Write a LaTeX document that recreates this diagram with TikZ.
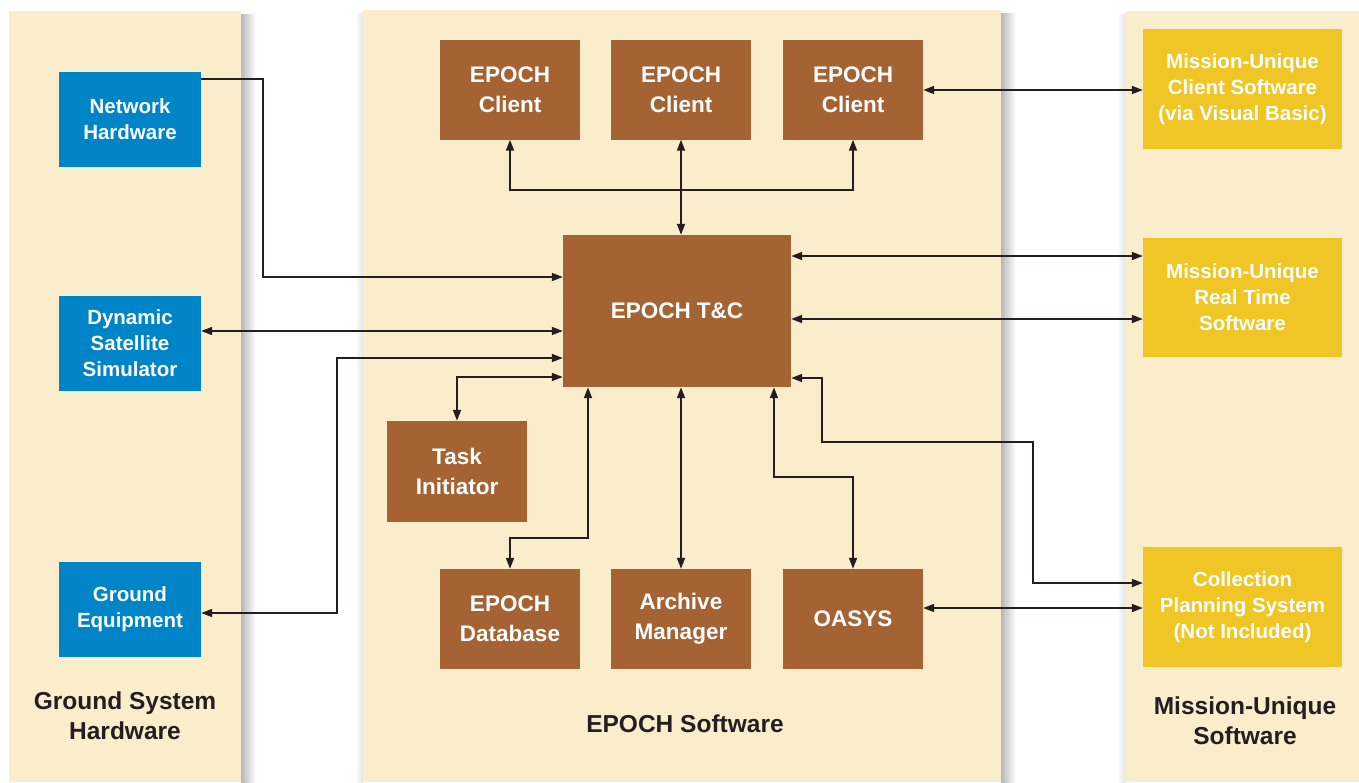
\documentclass[tikz,border=0pt]{standalone}
\usepackage{fontspec}
\setmainfont{Liberation Sans}
\usetikzlibrary{arrows.meta}
\definecolor{cream}{HTML}{FAEDCB}
\definecolor{brownbox}{HTML}{A56333}
\definecolor{bluebox}{HTML}{0084C8}
\definecolor{yellowbox}{HTML}{F0C626}
\definecolor{ink}{HTML}{231F20}
\begin{document}
\begin{tikzpicture}[x=1pt,y=-1pt,
  bn/.style={fill=brownbox, text=white, font=\bfseries\fontsize{22.5}{30}\selectfont, align=center, minimum width=140, minimum height=100, inner sep=0},
  blu/.style={fill=bluebox, text=white, font=\bfseries\fontsize{20.5}{26}\selectfont, align=center, minimum width=142, minimum height=95, inner sep=0},
  yel/.style={fill=yellowbox, text=white, font=\bfseries\fontsize{20.5}{26}\selectfont, align=center, minimum width=199, minimum height=120, inner sep=0},
  lab/.style={text=ink, font=\bfseries\fontsize{24.5}{30}\selectfont, align=center},
  conn/.style={draw=ink, line width=1.7pt},
  tip/.tip={Triangle[length=11pt,width=8pt]},
  both/.style={conn, tip-tip},
  one/.style={conn, -tip}
]
\useasboundingbox (0,0) rectangle (1359,782);
\fill[white] (0,0) rectangle (1359,782);
% panel shadows
\shade[left color=black!28, right color=white] (241,14) rectangle (256,782);
\shade[left color=black!28, right color=white] (1001,13) rectangle (1016,782);
\shade[left color=white, right color=black!10] (355,13) rectangle (363,782);
\shade[left color=white, right color=black!10] (1117,14) rectangle (1125,782);
% panels
\fill[cream] (9,11) rectangle (241,782);
\fill[cream] (363,10) rectangle (1001,782);
\fill[cream] (1125,11) rectangle (1359,782);

% blue nodes
\node[blu] (nh) at (130,119.5) {Network\\Hardware};
\node[blu] (dss) at (130,343.5) {Dynamic\\Satellite\\Simulator};
\node[blu] (ge) at (130,609.5) {Ground\\Equipment};
% brown nodes
\node[bn] (c1) at (510,89.5) {EPOCH\\Client};
\node[bn] (c2) at (681,89.5) {EPOCH\\Client};
\node[bn] (c3) at (853,89.5) {EPOCH\\Client};
\node[bn, minimum width=228, minimum height=152] (tc) at (677,311) {EPOCH T\&C};
\node[bn, minimum height=101] (task) at (457,471.5) {Task\\Initiator};
\node[bn] (db) at (510,619) {EPOCH\\Database};
\node[bn] (am) at (681,619) {Archive\\Manager};
\node[bn] (oasys) at (853,619) {OASYS};
% yellow nodes
\node[yel] (y1) at (1242.5,89) {Mission-Unique\\Client Software\\(via Visual Basic)};
\node[yel, minimum height=119] (y2) at (1242.5,297.5) {Mission-Unique\\Real Time\\Software};
\node[yel] (cps) at (1242.5,607) {Collection\\Planning System\\(Not Included)};
% labels
\node[lab] (lgsh) at (125,716) {Ground System\\Hardware};
\node[lab] (les) at (685,724) {EPOCH Software};
\node[lab] (lmus) at (1245,721) {Mission-Unique\\Software};

% connectors
\draw[one] (nh.east |- 0,79) -| (263,277) -- (tc.west |- 0,277);
\draw[both] (dss.east |- 0,331) -- (tc.west |- 0,331);
\draw[both] (tc.west |- 0,358) -| (337,613) -- (ge.east |- 0,613);
\draw[both] (tc.west |- 0,377) -| (task.north);
\draw[both] (tc.south -| 588,0) |- (db.north |- 0,538) -- (db.north);
\draw[both] (tc.south -| am.north) -- (am.north);
\draw[both] (tc.south -| 774,0) |- (oasys.north |- 0,477) -- (oasys.north);
\draw[both] (tc.east |- 0,378) -| (822,442) -| (1033,583) -- (cps.west |- 0,583);
\draw[both] (oasys.east |- 0,608) -- (cps.west |- 0,608);
\draw[both] (c1.south) |- (c3.south |- 0,190) -- (c3.south);
\draw[both] (tc.north -| c2.south) -- (c2.south);
\draw[both] (c3.east |- 0,90) -- (y1.west |- 0,90);
\draw[both] (tc.east |- 0,256) -- (y2.west |- 0,256);
\draw[both] (tc.east |- 0,319) -- (y2.west |- 0,319);
\end{tikzpicture}
\end{document}
